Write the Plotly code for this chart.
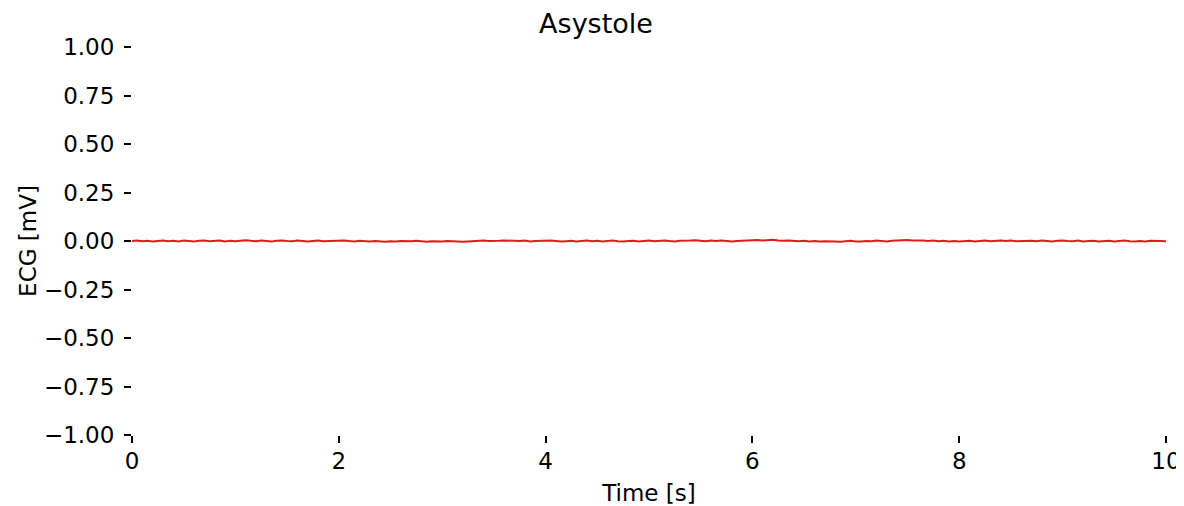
import numpy as np
import plotly.graph_objects as go

# Sampling grid (seconds) and ECG amplitude (mV)
sample_step_s = 0.05
ecg_mv = [
    0.000, 0.002, -0.001, 0.001, -0.002, 0.000, 0.003, -0.001, 0.001, -0.003,
    0.002, 0.000, -0.002, 0.001, 0.003, -0.001, 0.000, 0.002, -0.002, 0.001,
    -0.001, 0.002, 0.004, 0.001, -0.001, 0.002, 0.000, -0.002, 0.001, 0.003,
    0.000, -0.001, 0.002, 0.001, -0.003, 0.000, 0.002, -0.001, 0.001, 0.000,
    0.002, 0.003, 0.000, -0.002, 0.001, -0.001, -0.003, 0.000, -0.002, -0.004,
    -0.001, -0.003, 0.000, -0.002, -0.001, 0.001, -0.002, -0.004, -0.001, -0.002,
    -0.003, 0.000, -0.002, -0.001, -0.004, -0.002, 0.000, -0.001, 0.002, 0.000,
    -0.001, 0.001, 0.003, 0.001, -0.001, 0.000, 0.002, -0.002, 0.000, 0.001,
    -0.001, 0.002, 0.000, -0.003, -0.001, 0.001, -0.002, 0.000, 0.002, -0.001,
    0.001, -0.002, 0.000, 0.002, -0.001, -0.003, 0.000, 0.001, -0.002, 0.000,
    0.002, -0.001, 0.001, 0.003, 0.000, -0.002, 0.001, 0.000, 0.002, 0.004,
    0.001, -0.001, 0.002, 0.000, 0.003, 0.001, -0.002, 0.000, 0.002, 0.001,
    0.003, 0.005, 0.002, 0.004, 0.006, 0.003, 0.001, 0.003, 0.000, -0.001,
    0.001, -0.002, 0.000, -0.003, -0.001, 0.000, -0.002, -0.004, -0.001, 0.001,
    -0.002, -0.003, 0.000, -0.001, 0.002, 0.000, -0.002, 0.001, 0.003, 0.002,
    0.005, 0.003, 0.004, 0.002, 0.000, 0.002, -0.001, 0.001, -0.002, 0.000,
    -0.003, -0.001, 0.001, -0.002, 0.000, 0.002, -0.001, 0.001, 0.003, 0.000,
    0.002, -0.001, 0.000, 0.002, 0.001, -0.001, 0.002, 0.000, -0.002, 0.001,
    0.003, 0.000, -0.001, 0.002, -0.002, 0.000, 0.001, -0.003, -0.001, 0.001,
    -0.002, 0.000, 0.002, -0.001, -0.003, 0.000, -0.002, 0.001, -0.001, 0.000,
    -0.001,
]
time_s = np.arange(len(ecg_mv)) * sample_step_s

x_tick_vals = [0, 2, 4, 6, 8, 10]
x_tick_text = ["0", "2", "4", "6", "8", "10"]
y_tick_vals = [-1.0, -0.75, -0.5, -0.25, 0.0, 0.25, 0.5, 0.75, 1.0]
y_tick_text = ["\u22121.00", "\u22120.75", "\u22120.50", "\u22120.25", "0.00",
               "0.25", "0.50", "0.75", "1.00"]

FONT = "DejaVu Sans"
LABEL_SIZE = 23

# The page body has an 8px default margin; size the figure to fit the window.
FIG_W, FIG_H = 1176, 498

fig = go.Figure()
fig.add_trace(go.Scatter(
    x=time_s, y=ecg_mv, mode="lines",
    line=dict(color="#e31a1c", width=2),
    showlegend=False,
))

fig.update_layout(
    width=FIG_W, height=FIG_H,
    margin=dict(l=124, r=18, t=39, b=71, autoexpand=False),
    paper_bgcolor="white", plot_bgcolor="white",
    font=dict(family=FONT, size=LABEL_SIZE, color="black"),
    title=dict(text="Asystole", x=0.5, xanchor="center",
               y=1 - 16 / FIG_H, yanchor="middle",
               font=dict(family=FONT, size=27, color="black")),
)
fig.update_xaxes(
    range=[0, 10], tickvals=x_tick_vals, ticktext=x_tick_text,
    ticks="outside", ticklen=7, tickwidth=1.8, tickcolor="black",
    showline=False, showgrid=False, zeroline=False, automargin=False,
    ticklabelstandoff=-2,
    tickfont=dict(family=FONT, size=LABEL_SIZE, color="black"),
    title=dict(text="Time [s]", standoff=15,
               font=dict(family=FONT, size=LABEL_SIZE, color="black")),
)
fig.update_yaxes(
    range=[-1, 1], tickvals=y_tick_vals, ticktext=y_tick_text,
    ticks="outside", ticklen=7, tickwidth=1.8, tickcolor="black",
    showline=False, showgrid=False, zeroline=False, automargin=False,
    ticklabelstandoff=5,
    tickfont=dict(family=FONT, size=LABEL_SIZE, color="black"),
    title=dict(text="ECG [mV]", standoff=0,
               font=dict(family=FONT, size=LABEL_SIZE, color="black")),
)

fig.write_html("out.html")
